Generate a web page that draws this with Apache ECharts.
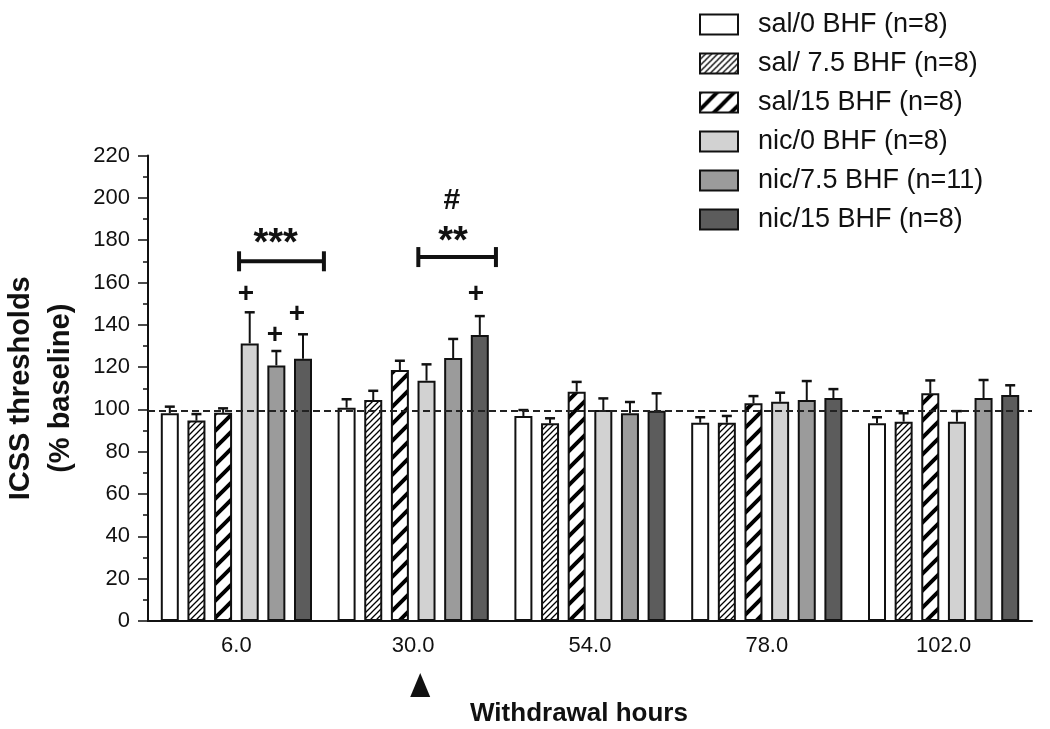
<!DOCTYPE html>
<html><head><meta charset="utf-8">
<script src="https://cdn.jsdelivr.net/npm/echarts@6/dist/echarts.min.js"></script>
<style>html,body{margin:0;padding:0;background:#fff}#c{width:1050px;height:729px}</style>
</head><body><div id="c"></div>
<script>
// ---------- data ----------
var categories = ['6.0', '30.0', '54.0', '78.0', '102.0'];
var seriesNames = ['sal/0 BHF (n=8)', 'sal/ 7.5 BHF (n=8)', 'sal/15 BHF (n=8)', 'nic/0 BHF (n=8)', 'nic/7.5 BHF (n=11)', 'nic/15 BHF (n=8)'];
var sal0 = [98.2, 100.8, 96.9, 93.7, 93.4];
var sal0Err = [3.1, 4.0, 2.8, 2.6, 2.9];
var sal75 = [94.7, 104.4, 93.4, 93.7, 94.2];
var sal75Err = [3.1, 4.4, 2.4, 3.2, 4.0];
var sal15 = [98.4, 118.6, 108.4, 102.9, 107.6];
var sal15Err = [2.1, 4.4, 4.6, 3.4, 6.1];
var nic0 = [131.2, 113.6, 99.7, 103.6, 94.2];
var nic0Err = [14.7, 7.7, 5.5, 4.3, 5.0];
var nic75 = [120.8, 124.3, 98.2, 104.4, 105.4];
var nic75Err = [6.8, 9.0, 5.3, 9.0, 8.5];
var nic15 = [124.0, 135.2, 99.4, 105.4, 106.8];
var nic15Err = [11.5, 8.9, 8.2, 4.2, 4.6];
var baseline = 99.2;
var yTicks = {min: 0, max: 220, interval: 20};
// annotation positions on a hidden 0..5 axis (category i spans i..i+1)
var brackets = [[0.515, 0.995, 170], [1.529, 1.968, 172]];
var starTexts = [[0.722, 177.7, '***'], [1.725, 179, '**'], [1.718, 198.7, '#']];
var plusMarks = [[0.554, 154.5], [0.718, 135], [0.843, 145], [1.855, 154.4]];

// ---------- styles ----------
var FONT = '"Liberation Sans", Arial, Helvetica, sans-serif';
function hatch(p, lw) {
  var c = document.createElement('canvas');
  c.width = p; c.height = p;
  var g = c.getContext('2d');
  g.fillStyle = '#fff'; g.fillRect(0, 0, p, p);
  g.strokeStyle = '#000'; g.lineWidth = lw;
  g.beginPath();
  for (var k = 0; k <= 2; k++) {
    g.moveTo(-p, k * p + p); g.lineTo(2 * p, k * p - 2 * p);
  }
  g.stroke();
  return c;
}
var fills = [
  '#ffffff',
  {image: hatch(6, 1.3), repeat: 'repeat'},
  {image: hatch(17, 4), repeat: 'repeat'},
  '#d2d2d2',
  '#9b9b9b',
  '#5c5c5c'
];
var values = [sal0, sal75, sal15, nic0, nic75, nic15];
var errs = [sal0Err, sal75Err, sal15Err, nic0Err, nic75Err, nic15Err];
var BAR_W = 18, GAP = 0.48, STEP = BAR_W * (1 + GAP);

var series = [];
values.forEach(function (vals, k) {
  var s = {
    name: seriesNames[k], type: 'bar', data: vals,
    barWidth: BAR_W, barGap: (GAP * 100) + '%',
    itemStyle: {color: fills[k], borderColor: '#111', borderWidth: 2},
    z: 2
  };
  if (k === 0) {
    s.markLine = {
      silent: true, symbol: 'none', label: {show: false},
      lineStyle: {color: '#222', width: 2, type: [7, 4]},
      data: [{yAxis: baseline}], z: 5
    };
  }
  series.push(s);
});
values.forEach(function (vals, k) {
  series.push({
    type: 'custom', silent: true, z: 3,
    data: vals.map(function (v, i) { return [i, v, errs[k][i]]; }),
    renderItem: function (params, api) {
      var base = api.coord([api.value(0), api.value(1)]);
      var top = api.coord([api.value(0), api.value(1) + api.value(2)]);
      var x = base[0] + (k - 2.5) * STEP;
      return {type: 'group', children: [
        {type: 'line', shape: {x1: x, y1: base[1], x2: x, y2: top[1]}, style: {stroke: '#111', lineWidth: 2}},
        {type: 'line', shape: {x1: x - 5, y1: top[1], x2: x + 5, y2: top[1]}, style: {stroke: '#111', lineWidth: 2.5}}
      ]};
    }
  });
});
// brackets
series.push({
  type: 'custom', xAxisIndex: 1, silent: true, z: 4,
  data: brackets,
  renderItem: function (params, api) {
    var a = api.coord([api.value(0), api.value(2)]);
    var b = api.coord([api.value(1), api.value(2)]);
    var st = {stroke: '#111', lineWidth: 4};
    return {type: 'group', children: [
      {type: 'line', shape: {x1: a[0], y1: a[1], x2: b[0], y2: b[1]}, style: st},
      {type: 'line', shape: {x1: a[0], y1: a[1] - 10, x2: a[0], y2: a[1] + 10}, style: st},
      {type: 'line', shape: {x1: b[0], y1: b[1] - 10, x2: b[0], y2: b[1] + 10}, style: st}
    ]};
  }
});
// texts
series.push({
  type: 'custom', xAxisIndex: 1, silent: true, z: 4,
  data: starTexts,
  renderItem: function (params, api) {
    var p = api.coord([api.value(0), api.value(1)]);
    var t = starTexts[params.dataIndex][2];
    return {type: 'text', x: p[0], y: p[1], style: {
      text: t, fill: '#111', align: 'center', verticalAlign: 'middle',
      font: (t === '#' ? 'bold 30px ' : 'bold 38px ') + FONT
    }};
  }
});
series.push({
  type: 'custom', xAxisIndex: 1, silent: true, z: 4,
  data: plusMarks,
  renderItem: function (params, api) {
    var p = api.coord([api.value(0), api.value(1)]);
    return {type: 'text', x: p[0], y: p[1], style: {
      text: '+', fill: '#111', align: 'center', verticalAlign: 'middle',
      font: 'bold 28px ' + FONT
    }};
  }
});

var chart = echarts.init(document.getElementById('c'), null, {renderer: 'canvas'});
var option = {
  animation: false,
  backgroundColor: '#fff',
  textStyle: {fontFamily: FONT, color: '#111'},
  grid: {left: 148, right: 18, top: 155.5, bottom: 108, containLabel: false, outerBoundsMode: 'none'},
  legend: {
    orient: 'vertical', left: 694, top: 6,
    itemWidth: 38, itemHeight: 20, itemGap: 12,
    icon: 'rect', selectedMode: false,
    data: seriesNames,
    textStyle: {fontSize: 27, color: '#111', fontFamily: FONT, padding: [0, 0, 0, 15]}
  },
  xAxis: [{
    type: 'category', data: categories,
    axisLine: {lineStyle: {color: '#111', width: 2}},
    axisTick: {alignWithLabel: true, length: 9, lineStyle: {color: '#111', width: 2}},
    axisLabel: {fontSize: 22, color: '#111', margin: 14, fontFamily: FONT},
    name: 'Withdrawal hours', nameLocation: 'middle', nameGap: 80,
    nameTextStyle: {fontSize: 26, fontWeight: 'bold', color: '#111', fontFamily: FONT, padding: [0, 22, 0, 0]}
  }, {
    type: 'value', min: 0, max: 5, show: false
  }],
  yAxis: {
    type: 'value', min: yTicks.min, max: yTicks.max, interval: yTicks.interval,
    axisLine: {show: true, lineStyle: {color: '#111', width: 2}},
    axisTick: {show: true, length: 10, lineStyle: {color: '#111', width: 1.5}},
    minorTick: {show: true, splitNumber: 2, length: 5, lineStyle: {color: '#111', width: 1.5}},
    splitLine: {show: false},
    axisLabel: {fontSize: 22, color: '#111', margin: 18, fontFamily: FONT},
    name: 'ICSS thresholds\n(% baseline)', nameLocation: 'middle', nameGap: 67,
    nameTextStyle: {fontSize: 29, fontWeight: 'bold', color: '#111', lineHeight: 40, fontFamily: FONT}
  },
  series: series
};
chart.setOption(option);

// arrowhead marker under the 30.0 h time point
var px = chart.convertToPixel({xAxisIndex: 0}, categories[1]);
var py = chart.convertToPixel({yAxisIndex: 0}, 0);
chart.setOption({graphic: [{
  type: 'polygon',
  shape: {points: [[px + 7, py + 52], [px - 3, py + 76], [px + 17, py + 76]]},
  style: {fill: '#111'}
}]});
</script>
</body></html>
